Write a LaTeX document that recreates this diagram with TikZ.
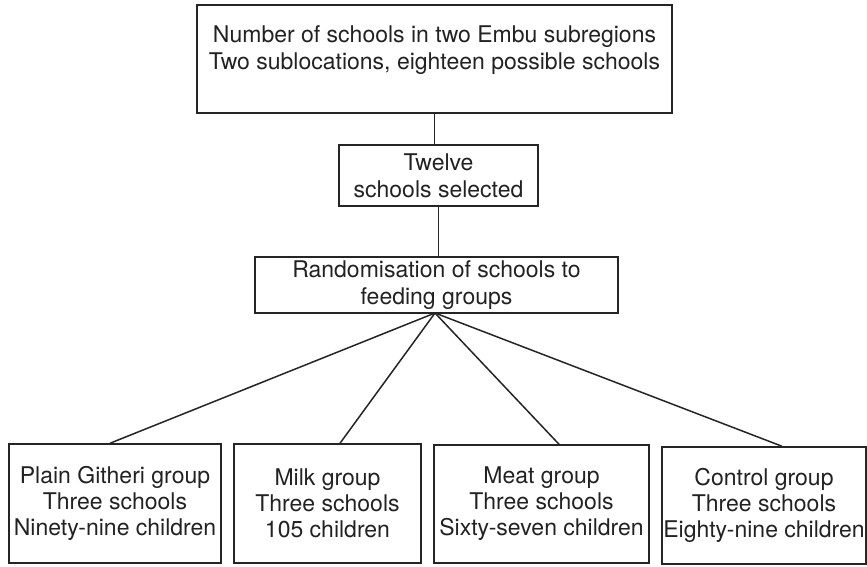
\documentclass[tikz,border=0pt]{standalone}
\usepackage{fontspec}
\setmainfont{TeX Gyre Heros}
\definecolor{linec}{HTML}{252525}
\definecolor{textc}{HTML}{222222}
\begin{document}
\begin{tikzpicture}[x=1pt,y=-1pt,
  box/.style={draw=linec, line width=1.5pt, inner sep=0pt, align=center,
    text=textc, font=\fontsize{23}{27}\selectfont},
  lowbox/.style={box, font=\fontsize{23}{26}\selectfont},
  txt/.style={inner sep=0pt, align=center, text=textc, font=\fontsize{23}{27}\selectfont},
  conn/.style={draw=linec, line width=1.5pt}]
\useasboundingbox (0,0) rectangle (867,566);
\fill[white] (0,0) rectangle (867,566);

\node[box, minimum width=475pt, minimum height=108pt] (top) at (434.5,59) {};
\node[txt] (toptext) at (434.5,50.5) {Number of schools in two Embu subregions\\Two sublocations, eighteen possible schools};

\node[box, minimum width=199pt, minimum height=61pt] (sel) at (438.5,175.5) {Twelve\\schools selected};
\node[box, minimum width=363pt, minimum height=56pt] (rand) at (436.5,285) {Randomisation of schools to\\feeding groups};

\node[lowbox, minimum width=212pt, minimum height=119pt] (g1) at (115,503.5) {Plain Githeri group\\Three schools\\Ninety-nine children};
\node[lowbox, minimum width=187pt, minimum height=119pt] (g2) at (327.5,503.5) {Milk group\\Three schools\\105 children};
\node[lowbox, minimum width=215pt, minimum height=118pt] (g3) at (541.5,504) {Meat group\\Three schools\\Sixty-seven children};
\node[lowbox, minimum width=204pt, minimum height=117pt] (g4) at (764,505.5) {Control group\\Three schools\\Eighty-nine children};

\coordinate (hub) at (435,313);
\draw[conn] (top.south) -- (top.south |- sel.north);
\draw[conn] (sel.south) -- (sel.south |- rand.north);
\draw[conn] (hub) -- (g1.north -| 110,0);
\draw[conn] (hub) -- (g2.north -| 340,0);
\draw[conn] (hub) -- (g3.north -| 559,0);
\draw[conn] (hub) -- (g4.north -| 782,0);
\end{tikzpicture}
\end{document}
